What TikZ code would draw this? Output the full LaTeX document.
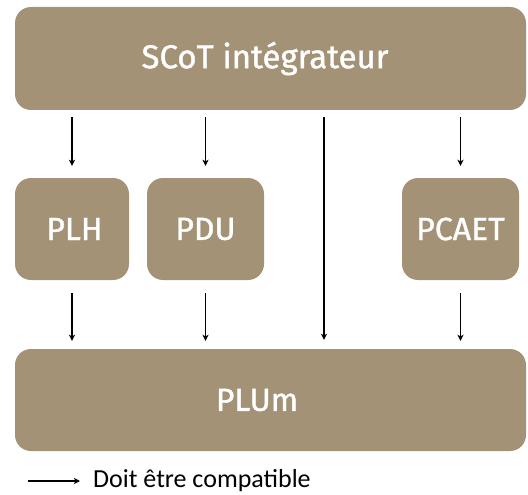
\documentclass[tikz,border=0pt]{standalone}
\usepackage{fontspec}
\setmainfont{Fira Sans}
\newfontfamily\blocfont[FakeBold=1.2]{Fira Sans}
\newfontfamily\legfont{Carlito}
\usetikzlibrary{arrows.meta}
\definecolor{sable}{RGB}{163,146,118}
\tikzset{
    bloc/.style={fill=sable,rounded corners=16pt,inner sep=0pt,text=white,font=\blocfont\fontsize{32}{36}\selectfont},
    fleche/.style={-{Stealth[length=6pt,width=6pt,inset=1.5pt]},line width=1.3pt}
}
\begin{document}
\begin{tikzpicture}[x=1pt,y=-1pt]
    \useasboundingbox (0,0) rectangle (528,495);
    \node[bloc,minimum width=511pt,minimum height=103pt,font=\blocfont\fontsize{33}{38}\selectfont] (scot) at (270.5,58.5) {SCoT intégrateur\hspace*{11pt}};
    \node[bloc,minimum width=114pt,minimum height=102pt] (plh) at (72,229) {\hspace*{5pt}PLH};
    \node[bloc,minimum width=117pt,minimum height=102pt] (pdu) at (205.5,229) {PDU};
    \node[bloc,minimum width=117pt,minimum height=102pt] (pcaet) at (460.5,229) {PCAET};
    \node[bloc,minimum width=511pt,minimum height=102pt] (plum) at (270.5,400) {PLUm\hspace*{27pt}};
    % SCoT vers les plans
    \draw[fleche,shorten <=7pt,shorten >=12pt] (scot.south -| plh) -- (plh.north);
    \draw[fleche,shorten <=7pt,shorten >=12pt] (scot.south -| pdu) -- (pdu.north);
    \draw[fleche,shorten <=7pt,shorten >=12pt] (scot.south -| pcaet) -- (pcaet.north);
    \draw[fleche,shorten <=7pt,shorten >=9pt] ([xshift=53.5pt]scot.south) -- ([xshift=53.5pt]plum.north);
    % plans vers PLUm
    \draw[fleche,shorten <=13pt,shorten >=8pt] (plh.south) -- (plum.north -| plh);
    \draw[fleche,shorten <=13pt,shorten >=8pt] (pdu.south) -- (plum.north -| pdu);
    \draw[fleche,shorten <=13pt,shorten >=8pt] (pcaet.south) -- (plum.north -| pcaet);
    % legende
    \coordinate (depart) at (28,481);
    \node[anchor=west,inner sep=0pt,font=\legfont\fontsize{26}{30}\selectfont] (legende) at (93,481) {Doit être compatible};
    \draw[fleche] (depart) -- ([xshift=-13pt]legende.west);
\end{tikzpicture}
\end{document}
